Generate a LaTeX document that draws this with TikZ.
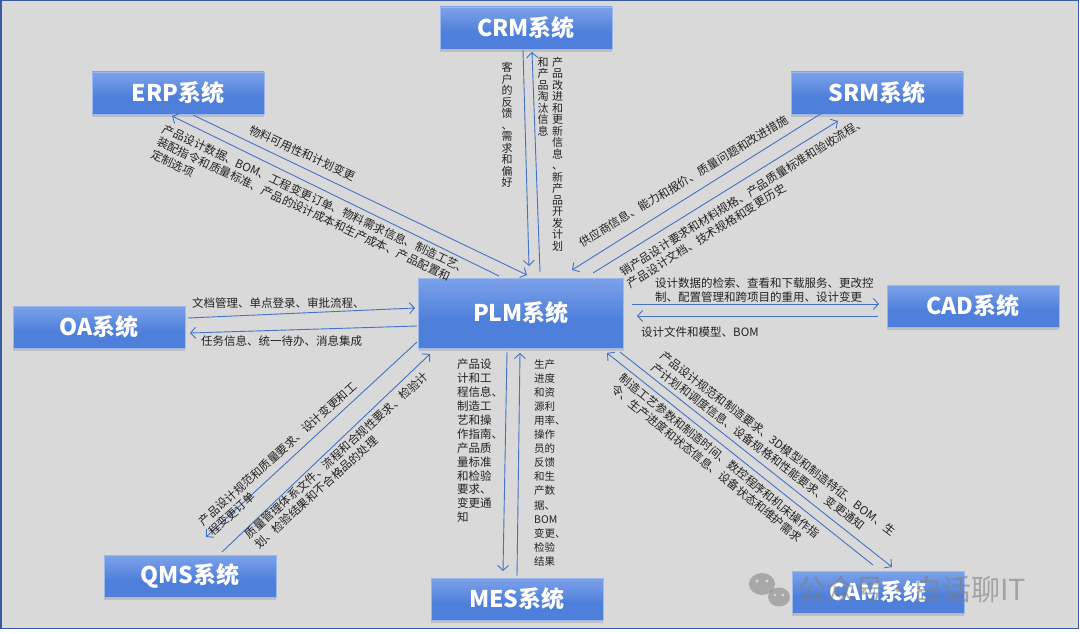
\documentclass[tikz,border=0pt]{standalone}
\usepackage{fontspec}
\setmainfont{Noto Sans CJK SC}
\usetikzlibrary{arrows.meta,shadows,calc}
\definecolor{bg}{HTML}{D9D9D9}
\definecolor{framec}{HTML}{3A5BA0}
\definecolor{ln}{HTML}{4472C4}
\definecolor{boxtop}{HTML}{CBDAF7}
\definecolor{boxmid}{HTML}{7DA2EA}
\definecolor{boxbot}{HTML}{4E7FDA}
\definecolor{boxedge}{HTML}{9DB8EC}
\definecolor{txt}{HTML}{222222}
\pgfdeclareverticalshading{sysshade}{100bp}{color(0bp)=(boxbot); color(45bp)=(boxbot); color(75bp)=(boxmid); color(100bp)=(boxtop)}
\tikzset{
  sysbox/.style={draw=boxedge, line width=0.6pt, shading=sysshade, minimum width=172pt, minimum height=42pt, inner sep=0pt, text=white, font=\fontsize{23}{26}\selectfont\bfseries, drop shadow={opacity=0.3, shadow xshift=0pt, shadow yshift=-3pt}},
  flow/.style={draw=ln, line width=0.9pt, -{Straight Barb[length=5pt,width=11pt]}},
  lbl/.style={inner sep=0pt, text=txt, font=\fontsize{11.5}{14}\selectfont, align=left},
  vcol/.style={inner sep=0pt, text=txt, font=\fontsize{11}{11.5}\selectfont, align=center, anchor=north},
}
\begin{document}
\begin{tikzpicture}[x=1pt, y=-1pt]
\useasboundingbox (0,0) rectangle (1080,634);
\fill[white] (0,0) rectangle (1080,634);
\draw[framec, fill=bg, line width=1.5pt] (0.75,0.75) rectangle (1078.5,628.5);

% system boxes
\node[sysbox] (CRM) at (526,28) {CRM系统};
\node[sysbox] (ERP) at (178,93) {ERP系统};
\node[sysbox] (SRM) at (877,93) {SRM系统};
\node[sysbox] (OA) at (99,327) {OA系统};
\node[sysbox, minimum width=205pt, minimum height=70pt] (PLM) at (521,313) {PLM系统};
\node[sysbox] (CAD) at (973,306) {CAD系统};
\node[sysbox] (QMS) at (190,576) {QMS系统};
\node[sysbox] (MES) at (517,599) {MES系统};
\node[sysbox] (CAM) at (878,592) {CAM系统};

% connectors
\draw[flow] ($(CRM)+(-3,22)$) -- ($(PLM)+(8,-47)$);
\draw[flow] ($(PLM)+(19,-41)$) -- ($(CRM)+(6,24)$);
\draw[flow] ($(ERP)+(15,22)$) -- ($(PLM)+(6,-38)$);
\draw[flow] ($(PLM)+(-22,-37)$) -- ($(ERP)+(-6,23)$);
\draw[flow] ($(SRM)+(-55,20)$) -- ($(PLM)+(51,-43)$);
\draw[flow] ($(PLM)+(72,-40)$) -- ($(SRM)+(-39,28)$);
\draw[flow] ($(OA)+(89,-9)$) -- ($(PLM)+(-106,-5)$);
\draw[flow] ($(PLM)+(-104,13)$) -- ($(OA)+(91,6)$);
\draw[flow] ($(PLM)+(111,-9)$) -- ($(CAD)+(-94,-2)$);
\draw[flow] ($(CAD)+(-95,10)$) -- ($(PLM)+(116,3)$);
\draw[flow] ($(PLM)+(-104,29)$) -- ($(QMS)+(16,-39)$);
\draw[flow] ($(QMS)+(32,-24)$) -- ($(PLM)+(-91,41)$);
\draw[flow] ($(PLM)+(-14,39)$) -- ($(MES)+(-14,-28)$);
\draw[flow] ($(MES)+(0,-23)$) -- ($(PLM)+(-1,40)$);
\draw[flow] ($(PLM)+(99,39)$) -- ($(CAM)+(14,-25)$);
\draw[flow] ($(CAM)+(-5,-27)$) -- ($(PLM)+(86,40)$);

% CRM labels (vertical)
\node[vcol] (crm1) at (507,62) {客\\户\\的\\反\\馈\\、\\需\\求\\和\\偏\\好};
\node[vcol] (crm2) at (543,57) {和\\产\\品\\淘\\汰\\信\\息};
\node[vcol] (crm3) at (557.5,57) {产\\品\\改\\进\\和\\更\\新\\信\\息\\、\\新\\产\\品\\开\\发\\计\\划};

% ERP labels
\node[lbl, rotate=-24.5, anchor=north west] (erp1) at (252,124) {物料可用性和计划变更};
\node[lbl, rotate=-25, anchor=north west] (erp2) at (166,123) {产品设计数据、BOM、工程变更订单、物料需求信息、制造工艺、\\装配指令和质量标准、产品的设计成本和生产成本、产品配置和\\定制选项};

% SRM labels
\node[lbl, rotate=31, anchor=north west] (srm1) at (577,239) {供应商信息、能力和报价、质量问题和改进措施};
\node[lbl, rotate=32, anchor=north west] (srm2) at (618,268) {销产品设计要求和材料规格、产品质量标准和验收流程、\\产品设计文档、技术规格和变更历史};

% OA labels
\node[lbl, anchor=west] (oa1) at (192,303) {文档管理、单点登录、审批流程、};
\node[lbl, anchor=west] (oa2) at (201,341) {任务信息、统一待办、消息集成};

% CAD labels
\node[lbl, anchor=north west] (cad1) at (655,278) {设计数据的检索、查看和下载服务、更改控\\制、配置管理和跨项目的重用、设计变更};
\node[lbl, anchor=west] (cad2) at (641,332) {设计文件和模型、BOM};

% QMS labels
\node[lbl, rotate=42, anchor=north west] (qms1) at (197,519) {产品设计规范和质量要求、设计变更和工\\程变更订单};
\node[lbl, rotate=42, anchor=north west] (qms2) at (243,532) {质量管理体系文件、流程和合规性要求、检验计\\划、检验结果和不合格品的处理};

% MES labels
\node[lbl, anchor=north west, font=\fontsize{11.5}{13.9}\selectfont] (mes1) at (457,359) {产品设\\计和工\\程信息、\\制造工\\艺和操\\作指南、\\产品质\\量标准\\和检验\\要求、\\变更通\\知};
\node[lbl, anchor=north west, font=\fontsize{10.5}{14.1}\selectfont] (mes2) at (534,359) {生产\\进度\\和资\\源利\\用率、\\操作\\员的\\反馈\\和生\\产数\\据、\\BOM\\变更、\\检验\\结果};

% CAM labels
\node[lbl, rotate=-37.5, anchor=north west] (cam1) at (665,350) {产品设计规范和制造要求、3D模型和制造特征、BOM、生\\产计划和调度信息、设备规格和性能要求、变更通知};
\node[lbl, rotate=-39, anchor=north west] (cam2) at (625,372) {制造工艺参数和制造时间、数控程序和机床操作指\\令、生产进度和状态信息、设备状态和维护需求};

% watermark
\fill[gray, opacity=0.55] (762,584) ellipse (13 and 11);
\fill[gray, opacity=0.55] (779,597) ellipse (11 and 9.5);
\fill[bg] (757,581) circle (1.6) (767,581) circle (1.6) (775,595) circle (1.3) (783,595) circle (1.3);
\node[font=\fontsize{29}{30}\selectfont, text=gray, opacity=0.6, anchor=west, inner sep=0pt] (wm) at (797,589) {公众号·白话聊IT};
\end{tikzpicture}
\end{document}
